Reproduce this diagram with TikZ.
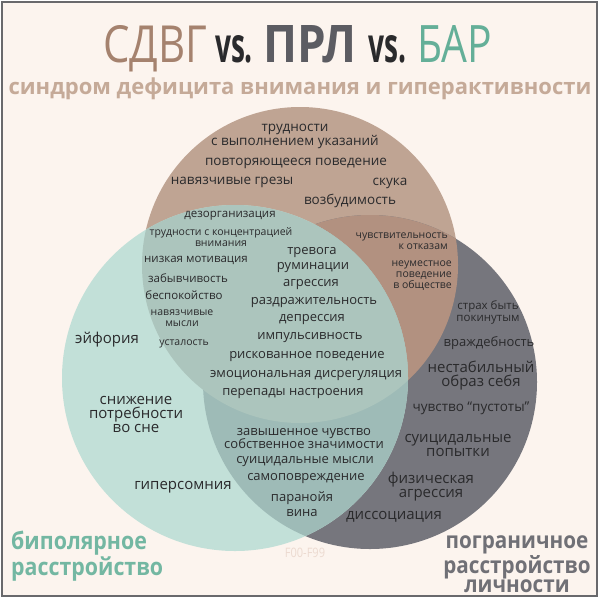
\documentclass[tikz,border=0pt]{standalone}
\usepackage{fontspec}
\usepackage{graphicx}
\setmainfont{Open Sans}
\definecolor{bgc}{RGB}{252,244,238}
\definecolor{framec}{RGB}{105,105,108}
\definecolor{adhdc}{RGB}{191,164,147}
\definecolor{bpdc}{RGB}{118,118,125}
\definecolor{barc}{RGB}{194,224,216}
\definecolor{adhdbpdc}{RGB}{178,145,128}
\definecolor{adhdbarc}{RGB}{172,197,189}
\definecolor{bpdbarc}{RGB}{158,187,183}
\definecolor{textc}{RGB}{42,42,44}
\definecolor{adhdtitle}{RGB}{165,130,110}
\definecolor{bpdtitle}{RGB}{92,92,98}
\definecolor{bartitle}{RGB}{100,175,152}
\definecolor{subtitlec}{RGB}{197,170,152}
\definecolor{barlabel}{RGB}{115,183,162}
\definecolor{bpdlabel}{RGB}{112,112,118}
\definecolor{codec}{RGB}{236,218,208}
\begin{document}
\begin{tikzpicture}[x=1pt,y=-1pt,
  lbl/.style={text=textc,inner sep=0pt,align=center},
  f105/.style={lbl,font=\fontsize{10.5}{11}\selectfont},
  f115/.style={lbl,font=\fontsize{11.5}{11.5}\selectfont},
  f13/.style={lbl,font=\fontsize{13}{13.5}\selectfont},
  f135/.style={lbl,font=\fontsize{13.5}{14}\selectfont},
  f15/.style={lbl,font=\fontsize{15}{14}\selectfont},
  titlepart/.style={inner sep=0pt,anchor=base,font=\fontsize{52}{52}\selectfont},
  vspart/.style={inner sep=0pt,anchor=base,text=textc,font=\fontsize{48}{48}\selectfont\bfseries},
  biglabel/.style={inner sep=0pt,font=\fontsize{24}{20}\selectfont\bfseries}]
\useasboundingbox (0,0) rectangle (601,600);
\fill[white] (0,0) rectangle (601,600);
\fill[bgc] (2,2) rectangle (597,596);
\coordinate (adhd) at (300,265);
\coordinate (bpd) at (370,382);
\coordinate (bar) at (235,378);
% circles
\fill[adhdc] (adhd) circle (158pt);
\fill[bpdc] (bpd) circle (167pt);
\begin{scope}
\clip (adhd) circle (158pt);
\fill[adhdbpdc] (bpd) circle (167pt);
\end{scope}
\fill[barc] (bar) circle (173pt);
\begin{scope}
\clip (bar) circle (173pt);
\fill[bpdbarc] (bpd) circle (167pt);
\fill[adhdbarc] (adhd) circle (158pt);
\end{scope}
\draw[framec,line width=1.5pt] (2,2) rectangle (597,596);
% title
\node[titlepart,text=adhdtitle] (t1) at (155,62) {\resizebox{104pt}{37pt}{СДВГ}};
\node[vspart] (v1) at (234,62) {\resizebox{38pt}{27pt}{vs.}};
\node[titlepart,text=bpdtitle,font=\fontsize{52}{52}\selectfont\bfseries] (t2) at (310,62) {\resizebox{94pt}{37pt}{ПРЛ}};
\node[vspart] (v2) at (387.5,62) {\resizebox{38pt}{27pt}{vs.}};
\node[titlepart,text=bartitle] (t3) at (454.5,62) {\resizebox{75pt}{37pt}{БАР}};
\node[inner sep=0pt,text=subtitlec,font=\fontsize{22}{22}\selectfont\bfseries] (sub) at (300,89) {синдром дефицита внимания и гиперактивности};
% adhd only
\node[f135] (a1) at (295,136) {трудности\\с выполнением указаний};
\node[f135] (a2) at (296,163) {повторяющееся поведение};
\node[f135] (a3) at (232,182) {навязчивые грезы};
\node[f135] (a4) at (390,183) {скука};
\node[f135] (a5) at (350,201) {возбудимость};
% adhd and bar
\node[f115] (ab1) at (230,216) {дезорганизация};
\node[f105] (ab2) at (221,237.5) {трудности с концентрацией\\внимания};
\node[f115] (ab3) at (196,260) {низкая мотивация};
\node[f115] (ab4) at (188,278) {забывчивость};
\node[f115] (ab5) at (184,295) {беспокойство};
\node[f105] (ab6) at (182,318.5) {навязчивые\\мысли};
\node[f105] (ab7) at (184,344) {усталость};
% all three
\node[f13] (c1) at (312,253) {тревога};
\node[f13] (c2) at (313,268) {руминации};
\node[f13] (c3) at (311,285) {агрессия};
\node[f13] (c4) at (314,303) {раздражительность};
\node[f13] (c5) at (312,320) {депрессия};
\node[f13] (c6) at (310,338) {импульсивность};
\node[f13] (c7) at (307,357) {рискованное поведение};
\node[f13] (c8) at (306,376) {эмоциональная дисрегуляция};
\node[f13] (c9) at (293,394) {перепады настроения};
% bar only
\node[f15] (b1) at (107,340) {эйфория};
\node[f15] (b2) at (136,414) {снижение\\потребности\\во сне};
\node[f15] (b3) at (183,487) {гиперсомния};
% bpd and bar
\node[f13] (pb1) at (304,438.5) {завышенное чувство\\собственное значимости};
\node[f13] (pb2) at (305,462) {суицидальные мысли};
\node[f13] (pb3) at (306,479) {самоповреждение};
\node[f13] (pb4) at (302,498) {паранойя};
\node[f13] (pb5) at (302,513) {вина};
% adhd and bpd
\node[f105,align=right,anchor=east] (ap1) at (448,241.5) {чувствительность\\к отказам};
\node[f105,align=right,anchor=east] (ap2) at (452,276) {неуместное\\поведение\\в обществе};
% bpd only
\node[f115] (p1) at (488,312.5) {страх быть\\покинутым};
\node[f13] (p2) at (489,343) {враждебность};
\node[f15] (p3) at (481,376) {нестабильный\\образ себя};
\node[f135] (p4) at (471,408) {чувство “пустоты”};
\node[f15] (p5) at (458,445) {суицидальные\\попытки};
\node[f15] (p6) at (431,487) {физическая\\агрессия};
\node[f15] (p7) at (394,517) {диссоциация};
% labels
\node[biglabel,text=barlabel,align=left,anchor=west,font=\fontsize{24}{22}\selectfont\bfseries] (barname) at (11,556) {\scalebox{0.89}[1]{биполярное}\\\scalebox{0.89}[1]{расстройство}};
\node[biglabel,text=bpdlabel,align=center,font=\fontsize{23}{19}\selectfont\bfseries] (bpdname) at (517,564) {\scalebox{0.9}[1]{пограничное}\\\scalebox{0.9}[1]{расстройство}\\\scalebox{0.9}[1]{личности}};
\node[inner sep=0pt,text=codec,font=\fontsize{13}{13}\selectfont] (code) at (305,553) {\scalebox{0.85}[1]{F00-F99}};
\end{tikzpicture}
\end{document}
